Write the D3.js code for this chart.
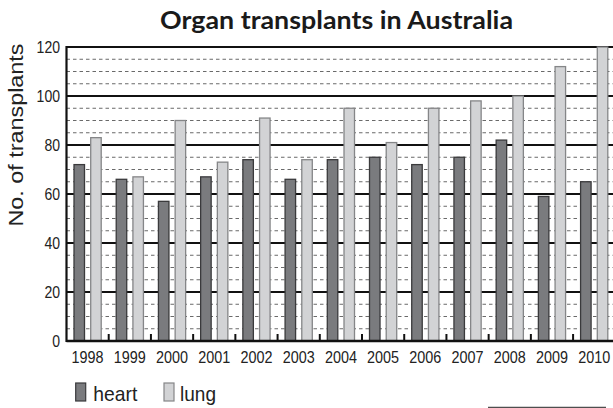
<!DOCTYPE html>
<html><head><meta charset="utf-8">
<script src="https://cdn.jsdelivr.net/npm/d3@7"></script>
<style>body{margin:0;background:#fff}svg{display:block}</style>
</head><body>
<svg id="c" width="613" height="408"></svg>
<script>
const years = ["1998","1999","2000","2001","2002","2003","2004","2005","2006","2007","2008","2009","2010"];
const heart = [72,66,57,67,74,66,74,75,72,75,82,59,65];
const lung  = [83,67,90,73,91,74,95,81,95,98,100,112,120];
const seriesNames = ["heart","lung"];
const yMajor = [0,20,40,60,80,100,120];
const yMinorStep = 5;

const svg = d3.select("#c");
const W = 613;
const x0 = 66.5, x1 = 615.3, yTop = 47, yBot = 341;
const x = d3.scaleBand().domain(years).range([x0, x1]).paddingInner(0).paddingOuter(0);
const xs = d3.scaleBand().domain(seriesNames).range([0, x.bandwidth()]).paddingInner(0.371).paddingOuter(0.449);
const y = d3.scaleLinear().domain([0,120]).range([yBot, yTop]);
const fills = {heart:"#7a7b7e", lung:"#d2d3d5"};
const strokes = {heart:"#3a3a3c", lung:"#858688"};
const font = "'Liberation Sans', Arial, Helvetica, sans-serif";

// minor dashed gridlines
const minors = d3.range(0, 121, yMinorStep).filter(v => v % 20 !== 0);
svg.append("g").selectAll("line").data(minors).join("line")
  .attr("x1", x0).attr("x2", W).attr("y1", d => y(d)).attr("y2", d => y(d))
  .attr("stroke", "#6a6a6a").attr("stroke-width", 1).attr("stroke-dasharray", "3.5,3");
// major gridlines
svg.append("g").selectAll("line").data(yMajor.filter(v => v > 0)).join("line")
  .attr("x1", x0).attr("x2", W).attr("y1", d => y(d)).attr("y2", d => y(d))
  .attr("stroke", "#111").attr("stroke-width", 2.2);

// bars
const rows = years.map((yr, i) => ({year: yr, heart: heart[i], lung: lung[i]}));
const g = svg.append("g").selectAll("g").data(rows).join("g")
  .attr("transform", d => `translate(${x(d.year)},0)`);
g.selectAll("rect").data(d => seriesNames.map(k => ({k, v: d[k]}))).join("rect")
  .attr("x", d => xs(d.k)).attr("width", xs.bandwidth())
  .attr("y", d => y(d.v)).attr("height", d => y(0) - y(d.v))
  .attr("fill", d => fills[d.k]).attr("stroke", d => strokes[d.k]).attr("stroke-width", 1.3);

// boundary ticks
svg.append("g").selectAll("line").data(years.slice(1)).join("line")
  .attr("x1", d => x(d)).attr("x2", d => x(d)).attr("y1", yBot - 7).attr("y2", yBot)
  .attr("stroke", "#111").attr("stroke-width", 2);

// axes lines
svg.append("line").attr("x1", x0).attr("x2", W).attr("y1", yBot).attr("y2", yBot)
  .attr("stroke", "#111").attr("stroke-width", 2.5);
svg.append("line").attr("x1", x0).attr("x2", x0).attr("y1", yTop - 1).attr("y2", yBot + 1)
  .attr("stroke", "#111").attr("stroke-width", 2.2);

// x axis labels
const xa = svg.append("g").attr("transform", `translate(0,${yBot})`)
  .call(d3.axisBottom(x).tickSize(0).tickPadding(0));
xa.select(".domain").remove();
xa.selectAll("text").attr("dy", null).attr("y", 22).attr("font-size", 17)
  .attr("font-family", font).attr("fill", "#222")
  .attr("textLength", 32).attr("lengthAdjust", "spacingAndGlyphs");

// y axis labels
const ya = svg.append("g").attr("transform", `translate(${x0},0)`)
  .call(d3.axisLeft(y).tickValues(yMajor).tickSize(0).tickPadding(6.5));
ya.select(".domain").remove();
ya.selectAll("text").attr("font-size", 16.5).attr("font-family", font).attr("fill", "#222")
  .attr("dy", "0.36em")
  .attr("textLength", d => String(d).length * 7.8).attr("lengthAdjust", "spacingAndGlyphs");

// y axis title
svg.append("text").attr("transform", "translate(23,135) rotate(-90)")
  .attr("text-anchor", "middle").attr("font-size", 19.5).attr("font-family", font).attr("fill", "#222")
  .attr("textLength", 183).attr("lengthAdjust", "spacingAndGlyphs")
  .text("No. of transplants");

// title
svg.append("text").attr("x", 160).attr("y", 29)
  .attr("font-size", 24).attr("font-weight", 700).attr("font-family", "Lato, 'Open Sans', sans-serif")
  .attr("fill", "#1a1a1a").attr("textLength", 353).attr("lengthAdjust", "spacingAndGlyphs")
  .text("Organ transplants in Australia");

// legend
const legendPos = [{k:"heart", rx:75.7, tx:93.3, tw:44}, {k:"lung", rx:164, tx:180, tw:36}];
const lg = svg.append("g").selectAll("g").data(legendPos).join("g");
lg.append("rect").attr("x", d => d.rx).attr("y", 383).attr("width", 10).attr("height", 18)
  .attr("fill", d => fills[d.k]).attr("stroke", d => strokes[d.k]).attr("stroke-width", 1.2);
lg.append("text").attr("x", d => d.tx).attr("y", 400.5).attr("font-size", 21)
  .attr("font-family", font).attr("fill", "#222")
  .attr("textLength", d => d.tw).attr("lengthAdjust", "spacingAndGlyphs")
  .text(d => d.k);

// bottom-right rule
svg.append("line").attr("x1", 488).attr("x2", 606).attr("y1", 407.3).attr("y2", 407.3)
  .attr("stroke", "#222").attr("stroke-width", 1);
</script>
</body></html>
